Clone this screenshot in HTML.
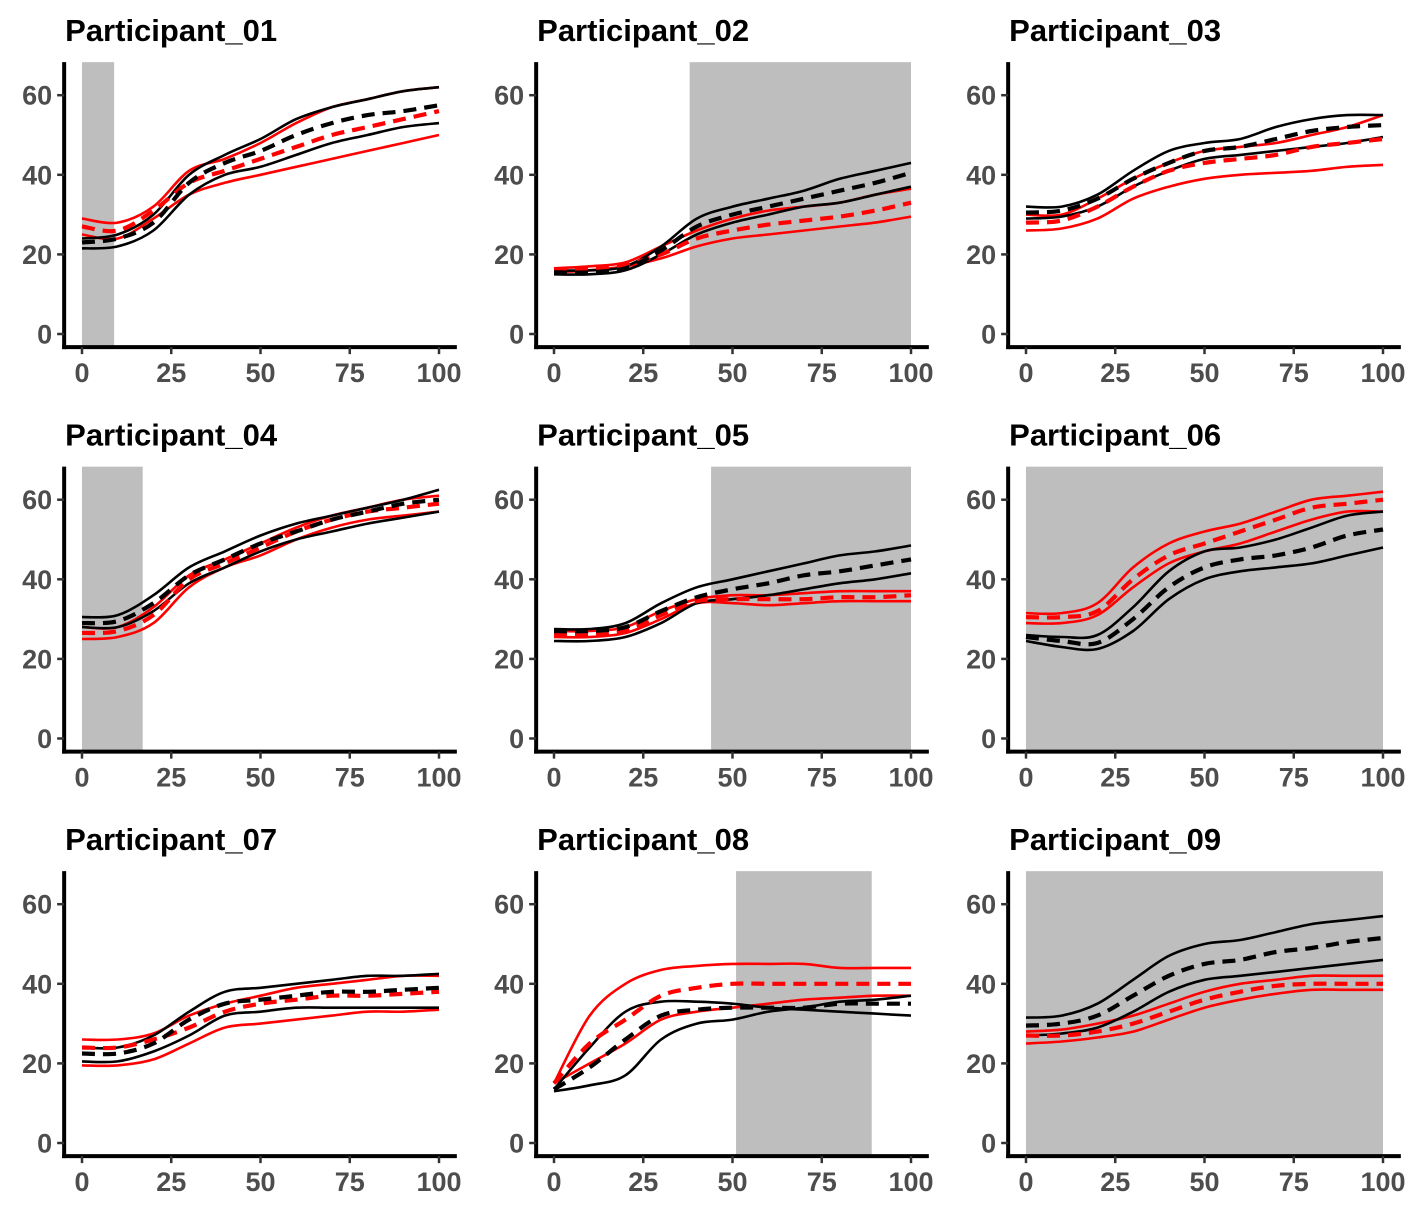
<!DOCTYPE html>
<html><head><meta charset="utf-8"><style>
body{margin:0;background:#fff}
svg{display:block}
text{font-family:"Liberation Sans",Arial,sans-serif;font-weight:bold}
</style></head><body>
<svg id="chart" width="1417" height="1207" viewBox="0 0 1417 1207" xmlns="http://www.w3.org/2000/svg"></svg>
<script>
const xs = [0,10,20,30,40,50,60,70,80,90,100];
const xTicks = [0,25,50,75,100];
const yTicks = [0,20,40,60];
const titles = ["Participant_01","Participant_02","Participant_03","Participant_04","Participant_05","Participant_06","Participant_07","Participant_08","Participant_09"];
const shades = [[0,9],[38,100],null,[0,17],[44,100],[0,100],null,[51,89],[0,100]];
// per panel: black upper, black mean, black lower, red upper, red mean, red lower
const blackUpper = [
[24,25,30,40,45,49,54,57,59,61,62],
[16,16,17,22,29,32,34,36,39,41,43],
[32,32,35,41,46,48,49,52,54,55,55],
[30.5,31,36,43,47,51,54,56,58,60,62.5],
[27.5,27.5,29,34,38,40,42,44,46,47,48.5],
[26,25.5,26,33,42,47,48,50,53,56,57],
[24,24,27,33,38,39,40,41,42,42,42.5],
[13.5,24,33,35.5,35.5,35,34,33.5,33,32.5,32],
[31.5,32,35,41,47,50,51,53,55,56,57]];
const blackMean = [
[23,24,28,38,43,46,50,53,55,56,57.5],
[15.5,15.5,16.5,21,27,30,32,34,36,38,40.5],
[30.5,31,34,39,43,46,47,49,51,52,52.5],
[29,29.5,34,41,45,49,52,55,57,59,60],
[27,27,28,32,35.5,37.5,39,41,42,43.5,45],
[25.5,24.5,24,30,38,43,45,46,48,51,52.5],
[22.5,22.5,25,31,35,36,37,38,38,38.5,39],
[13.5,19,26,32,33.5,34,34,34,35,35,35],
[29.5,30,32,37,42,45,46,48,49,50.5,51.5]];
const blackLower = [
[21.5,22,26,35,40,42,45,48,50,52,53],
[15,15,16,20,25,28,30,32,33,35,37],
[29,29.5,32,37,41,44,45,46,47,48,49.5],
[28,28,32,39,43,47,50,52,54,55.5,57],
[24.5,24.5,25.5,29,34,35,36,37.5,39,40,41.5],
[24.5,23,22.5,27,35,40,42,43,44,46,48],
[20.5,20.5,23,27,32,33,34,34,34,34,34],
[13,14.5,17,26,30,31,33,34,35.5,36,37],
[27,27.5,29,33,38,41,42,43,44,45,46]];
const redUpper = [
[29,28,32,41,44,48,53,57,59,61,62],
[16.5,17,18,22,26,29,31,32,33,35,36.5],
[30,30,34,39,43,46,47,48,50,52,55],
[28,28,33,41,45,49,53,56,58,60,61],
[27,27,28,32,35,36,36,36.5,37,37,37],
[31.5,31.5,34,43,49,52,54,57,60,61,62],
[26,26,27.5,32,35,37,39,40,41,42,42],
[15,32,40,43.5,44.5,45,45,45,44,44,44],
[28,28.5,30,32,35,38,40,41,42,42,42]];
const redMean = [
[27,26,31,38,41,44,47,50,52,54,56],
[16,16.5,17.5,20,24,26,27.5,28.5,29.5,31,33],
[28,28.5,32,37,41,43,44,45,47,48,49],
[26.5,27,31,40,44,48,52,55,57,58,59],
[26,26,27,31,34.5,35,35,35,35.5,35.5,36],
[30.5,30.5,32,40,46,49,52,55,58,59,60],
[24,24,26,29,33,35,36,37,37,37.5,38],
[15,25,31,37,39,40,40,40,40,40,40],
[27,27,28,30,33,36,38,39.5,40,40,40]];
const redLower = [
[25,24,29,35,38,40,42,44,46,48,50],
[15.5,16,17,19,22,24,25,26,27,28,29.5],
[26,26.5,29,34,37,39,40,40.5,41,42,42.5],
[25,25.5,29,38,43,46,50,53,55,56,57],
[25.5,25.5,26.5,30,34,34,33.5,34,34.5,34.5,34.5],
[29,29,31,38,44,47,49,52,55,57,57],
[19.5,19.5,21,25,29,30,31,32,33,33,33.5],
[15,20,25,31,33,34,35,36,36.5,37,37],
[25,25.5,26.5,28,31,34,36,37.5,38.5,38.5,38.5]];

const NS="http://www.w3.org/2000/svg";
const svg=document.getElementById('chart');
function mk(tag,attrs,parent){const e=document.createElementNS(NS,tag);for(const k in attrs)e.setAttribute(k,attrs[k]);parent.appendChild(e);return e;}
function pathFrom(pts){
  let d="M"+pts[0][0].toFixed(1)+","+pts[0][1].toFixed(1);
  for(let i=0;i<pts.length-1;i++){
    const p0=pts[Math.max(0,i-1)],p1=pts[i],p2=pts[i+1],p3=pts[Math.min(pts.length-1,i+2)];
    const c1=[p1[0]+(p2[0]-p0[0])/6,p1[1]+(p2[1]-p0[1])/6];
    const c2=[p2[0]-(p3[0]-p1[0])/6,p2[1]-(p3[1]-p1[1])/6];
    d+="C"+c1[0].toFixed(1)+","+c1[1].toFixed(1)+" "+c2[0].toFixed(1)+","+c2[1].toFixed(1)+" "+p2[0].toFixed(1)+","+p2[1].toFixed(1);
  }
  return d;
}
for(let p=0;p<9;p++){
  const c=p%3,r=Math.floor(p/3);
  const X0=82+472*c, Y0=334+404.5*r, KX=3.57, KY=3.98;
  const sx=v=>X0+v*KX, sy=v=>Y0-v*KY;
  const g=mk('g',{},svg);
  
  
  const top=sy(68.3), bot=sy(-3.3), left=sx(-5), right=sx(105);
  if(shades[p]){
    const s=mk('rect',{x:sx(shades[p][0]),y:top,width:sx(shades[p][1])-sx(shades[p][0]),height:bot-top,fill:'#bebebe'},g);
    
    
  }
  const t=mk('text',{x:left+1,y:top-21,'font-size':31,fill:'#000'},g);
  t.textContent=titles[p];
  
  
  const series=[[redUpper,'#ff0000',false],[redLower,'#ff0000',false],[blackUpper,'#000',false],[blackLower,'#000',false],[redMean,'#ff0000',true],[blackMean,'#000',true]];
  const names=['red-upper-line','red-lower-line','black-upper-line','black-lower-line','red-mean-line','black-mean-line'];
  series.forEach((s,i)=>{
    const pts=xs.map((x,j)=>[sx(x),sy(s[0][p][j])]);
    const a={d:pathFrom(pts),fill:'none',stroke:s[1],'stroke-width':s[2]?4.2:2.6};
    if(s[2]) a['stroke-dasharray']='13,8';
    const e=mk('path',a,g);
    
    
  });
  const ya=mk('line',{x1:left,y1:top,x2:left,y2:bot+2,stroke:'#000','stroke-width':4},g);
  
  
  const xa=mk('line',{x1:left-2,y1:bot,x2:right,y2:bot,stroke:'#000','stroke-width':4},g);
  
  
  yTicks.forEach(v=>{
    mk('line',{x1:left-7,x2:left,y1:sy(v),y2:sy(v),stroke:'#333','stroke-width':2.5},g);
    const l=mk('text',{x:left-12,y:sy(v)+9.5,'text-anchor':'end','font-size':27,fill:'#4d4d4d'},g);
    l.textContent=v;
    
    
  });
  xTicks.forEach(v=>{
    mk('line',{x1:sx(v),x2:sx(v),y1:bot,y2:bot+7,stroke:'#333','stroke-width':2.5},g);
    const l=mk('text',{x:sx(v),y:bot+35,'text-anchor':'middle','font-size':27,fill:'#4d4d4d'},g);
    l.textContent=v;
    
    
  });
}
</script>
</body></html>
